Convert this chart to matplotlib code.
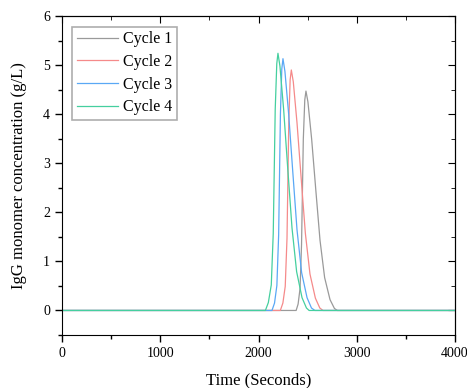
import matplotlib
matplotlib.use("Agg")
import matplotlib.pyplot as plt
from matplotlib.ticker import MultipleLocator

plt.rcParams['font.family'] = ['Liberation Serif', 'DejaVu Serif']

# elution peaks (time in s, IgG monomer in g/L)
t_cycle1 = [0, 2383, 2403, 2423, 2438, 2456, 2471, 2483, 2503, 2541, 2583, 2626, 2673, 2728, 2773, 2803, 4000]
c_cycle1 = [0, 0, 0.13, 0.45, 1.34, 3.49, 4.29, 4.47, 4.25, 3.49, 2.46, 1.43, 0.67, 0.22, 0.04, 0, 0]

t_cycle2 = [0, 2222, 2248, 2272, 2290, 2308, 2322, 2334, 2354, 2392, 2434, 2477, 2524, 2579, 2624, 2656, 4000]
c_cycle2 = [0, 0, 0.15, 0.49, 1.47, 3.82, 4.70, 4.90, 4.66, 3.82, 2.70, 1.57, 0.74, 0.25, 0.05, 0, 0]

t_cycle3 = [0, 2137, 2163, 2187, 2205, 2223, 2237, 2249, 2269, 2307, 2349, 2392, 2439, 2494, 2539, 2574, 4000]
c_cycle3 = [0, 0, 0.15, 0.51, 1.54, 4.00, 4.92, 5.13, 4.87, 4.00, 2.82, 1.64, 0.77, 0.26, 0.05, 0, 0]

t_cycle4 = [0, 2070, 2100, 2130, 2150, 2170, 2186, 2198, 2218, 2256, 2298, 2341, 2388, 2443, 2488, 2515, 4000]
c_cycle4 = [0, 0, 0.16, 0.52, 1.57, 4.09, 5.03, 5.24, 4.98, 4.09, 2.88, 1.68, 0.79, 0.26, 0.05, 0, 0]

labels = ['Cycle 1', 'Cycle 2', 'Cycle 3', 'Cycle 4']
colors = ['#9a9a9a', '#f58a8a', '#5aa8f5', '#45cf9f']

fig = plt.figure(figsize=(4.67, 3.88), dpi=100)
ax = fig.add_axes([0.1328, 0.1366, 0.8415, 0.8222])

series = [(t_cycle1, c_cycle1), (t_cycle2, c_cycle2), (t_cycle3, c_cycle3), (t_cycle4, c_cycle4)]
for (t, c), lab, col in zip(series, labels, colors):
    ax.plot(t, c, color=col, lw=0.9, label=lab)

ax.set_xlim(0, 4000)
ax.set_ylim(-0.5, 6)
ax.xaxis.set_major_locator(MultipleLocator(1000))
ax.xaxis.set_minor_locator(MultipleLocator(500))
ax.yaxis.set_major_locator(MultipleLocator(1))
ax.yaxis.set_minor_locator(MultipleLocator(0.5))
ax.tick_params(which='major', direction='out', length=5, width=1, labelsize=10)
ax.tick_params(which='minor', direction='out', length=3, width=1)

# mirrored ticks on top/right, pointing inward
top = ax.secondary_xaxis('top')
top.xaxis.set_major_locator(MultipleLocator(1000))
top.xaxis.set_minor_locator(MultipleLocator(500))
top.tick_params(which='both', direction='in', labeltop=False)
top.tick_params(which='major', length=5)
top.tick_params(which='minor', length=3)
right = ax.secondary_yaxis('right')
right.yaxis.set_major_locator(MultipleLocator(1))
right.yaxis.set_minor_locator(MultipleLocator(0.5))
right.tick_params(which='both', direction='in', labelright=False)
right.tick_params(which='major', length=5)
right.tick_params(which='minor', length=3)

ax.set_xlabel('Time (Seconds)', fontsize=12, labelpad=9)
ax.set_ylabel('IgG monomer concentration (g/L)', fontsize=12, labelpad=12)

leg = ax.legend(loc='upper left', bbox_to_anchor=(0.025, 0.967), fontsize=11.5,
                frameon=True, fancybox=False, handlelength=2.6, handletextpad=0.3,
                borderpad=0.3, labelspacing=0.42, borderaxespad=0.0)
leg.get_frame().set_edgecolor('#999999')
leg.get_frame().set_linewidth(1.2)

fig.savefig('out.png', dpi=100)
